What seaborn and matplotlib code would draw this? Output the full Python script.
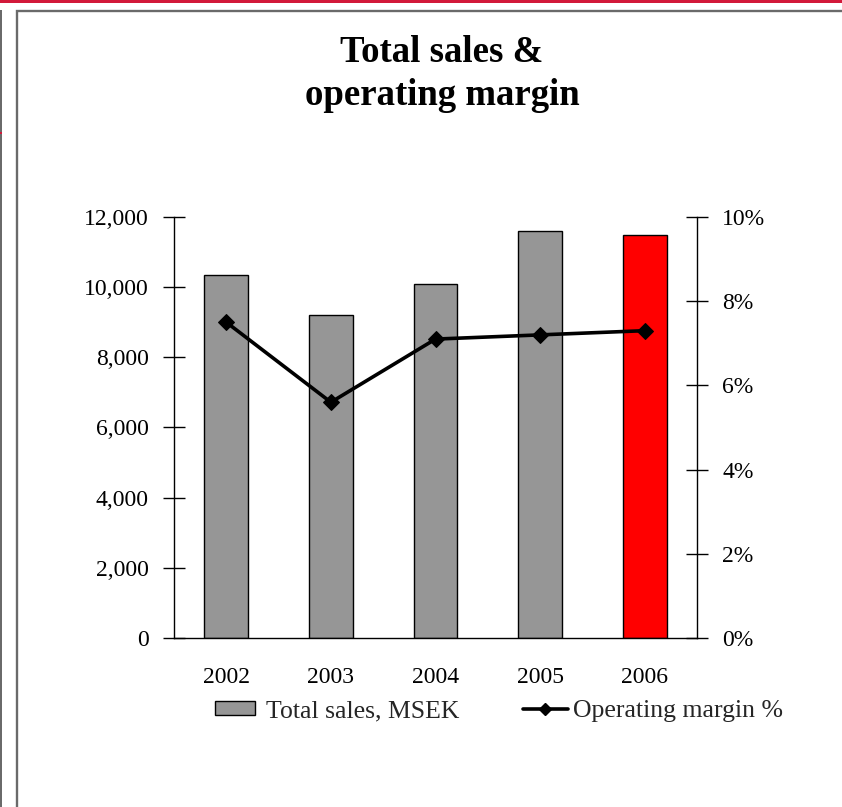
import numpy as np
import pandas as pd
import matplotlib
matplotlib.use("Agg")
import matplotlib.pyplot as plt
import seaborn as sns
from matplotlib.patches import Rectangle
from matplotlib.lines import Line2D
from matplotlib.patches import Patch
from matplotlib.ticker import FuncFormatter, FixedLocator

years = ["2002", "2003", "2004", "2005", "2006"]
sales = [10350, 9200, 10100, 11600, 11480]
margin = [7.5, 5.6, 7.1, 7.2, 7.3]
bar_colors = ["#969696", "#969696", "#969696", "#969696", "#ff0000"]
sales_ticks = [0, 2000, 4000, 6000, 8000, 10000, 12000]
margin_ticks = [0, 2, 4, 6, 8, 10]
title = "Total sales &\noperating margin"
legend_labels = ["Total sales, MSEK", "Operating margin %"]

sns.set_theme(style="white")
plt.rcParams["font.family"] = ["Liberation Serif", "DejaVu Serif"]

W, H = 842, 807
fig = plt.figure(figsize=(W / 100, H / 100), dpi=100)

# decorative frame
fig.patches.append(Rectangle((0, 1 - 3 / H), 1, 3 / H, transform=fig.transFigure,
                             facecolor="#d2193a", edgecolor="none"))
fig.patches.append(Rectangle((16.5 / W, -0.05), 1.0, 1 - 11 / H + 0.05, transform=fig.transFigure,
                             facecolor="none", edgecolor="#6a6a6a", linewidth=1.7))
fig.patches.append(Rectangle((0, 0), 1.7 / W, 1 - 10 / H, transform=fig.transFigure,
                             facecolor="#6a6a6a", edgecolor="none"))
fig.patches.append(Rectangle((0, 1 - 134 / H), 2 / W, 2 / H, transform=fig.transFigure,
                             facecolor="#d2193a", edgecolor="none"))

left, right, top, bottom = 174, 697, 217, 638
ax = fig.add_axes([left / W, 1 - bottom / H, (right - left) / W, (bottom - top) / H])

df = pd.DataFrame({"year": years, "sales": sales, "margin": margin})
sns.barplot(data=df, x="year", y="sales", hue="year", palette=bar_colors,
            legend=False, width=0.42, edgecolor="black", linewidth=1.0,
            saturation=1, ax=ax)
ax.set_ylim(0, 12000)
ax.set_xlim(-0.5, len(years) - 0.5)
ax.set_xlabel("")
ax.set_ylabel("")
ax.yaxis.set_major_locator(FixedLocator(sales_ticks))
ax.yaxis.set_major_formatter(FuncFormatter(lambda v, p: f"{v:,.0f}"))

# category boundary ticks (major, unlabeled) + centered labels (minor)
pos = np.arange(len(years))
ax.xaxis.set_major_locator(FixedLocator(np.arange(len(years) + 1) - 0.5))
ax.xaxis.set_major_formatter(FuncFormatter(lambda v, p: ""))
ax.set_xticks(pos, minor=True)
ax.set_xticklabels(years, minor=True)
ax.tick_params(axis="x", which="major", direction="inout", length=14, width=1, color="black")
ax.tick_params(axis="x", which="minor", length=0, pad=21, labelsize=17, labelcolor="black")
ax.tick_params(axis="y", direction="inout", length=16, width=1, color="black",
               pad=10, labelsize=17, labelcolor="black", left=True)

for s in ["top", "right"]:
    ax.spines[s].set_visible(False)
for s in ["left", "bottom"]:
    ax.spines[s].set_color("black")
    ax.spines[s].set_linewidth(1)

ax2 = ax.twinx()
sns.lineplot(x=pos, y=margin, ax=ax2, color="black", linewidth=2.6,
             marker="D", markersize=8, markeredgecolor="black", legend=False)
ax2.set_ylim(0, 10)
ax2.yaxis.set_major_locator(FixedLocator(margin_ticks))
ax2.yaxis.set_major_formatter(FuncFormatter(lambda v, p: f"{v:.0f}%"))
ax2.tick_params(axis="y", direction="inout", length=16, width=1, color="black",
                pad=10, labelsize=17, labelcolor="black", right=True)
ax2.set_ylabel("")
for s in ["top", "left", "bottom"]:
    ax2.spines[s].set_visible(False)
ax2.spines["right"].set_color("black")
ax2.spines["right"].set_linewidth(1)
ax.set_xlim(-0.5, len(years) - 0.5)

fig.text(442 / W, 1 - 35 / H, title, ha="center", va="top", fontsize=26.5,
         fontweight="bold", linespacing=1.3, color="black")

leg1 = fig.legend([Patch(facecolor=bar_colors[0], edgecolor="black", linewidth=1.0)],
                  [legend_labels[0]], loc="center left",
                  bbox_to_anchor=(215 / W, 1 - 711 / H), frameon=False, fontsize=18.5,
                  handlelength=1.56, handletextpad=0.43, handleheight=0.5,
                  borderpad=0, borderaxespad=0)
leg2 = fig.legend([Line2D([0], [0], color="black", linewidth=2.6, marker="D", markersize=6)],
                  [legend_labels[1]], loc="center left",
                  bbox_to_anchor=(523 / W, 1 - 711 / H), frameon=False, fontsize=18.5,
                  handlelength=1.75, handletextpad=0.2,
                  borderpad=0, borderaxespad=0)

fig.savefig("out.png", dpi=100)
